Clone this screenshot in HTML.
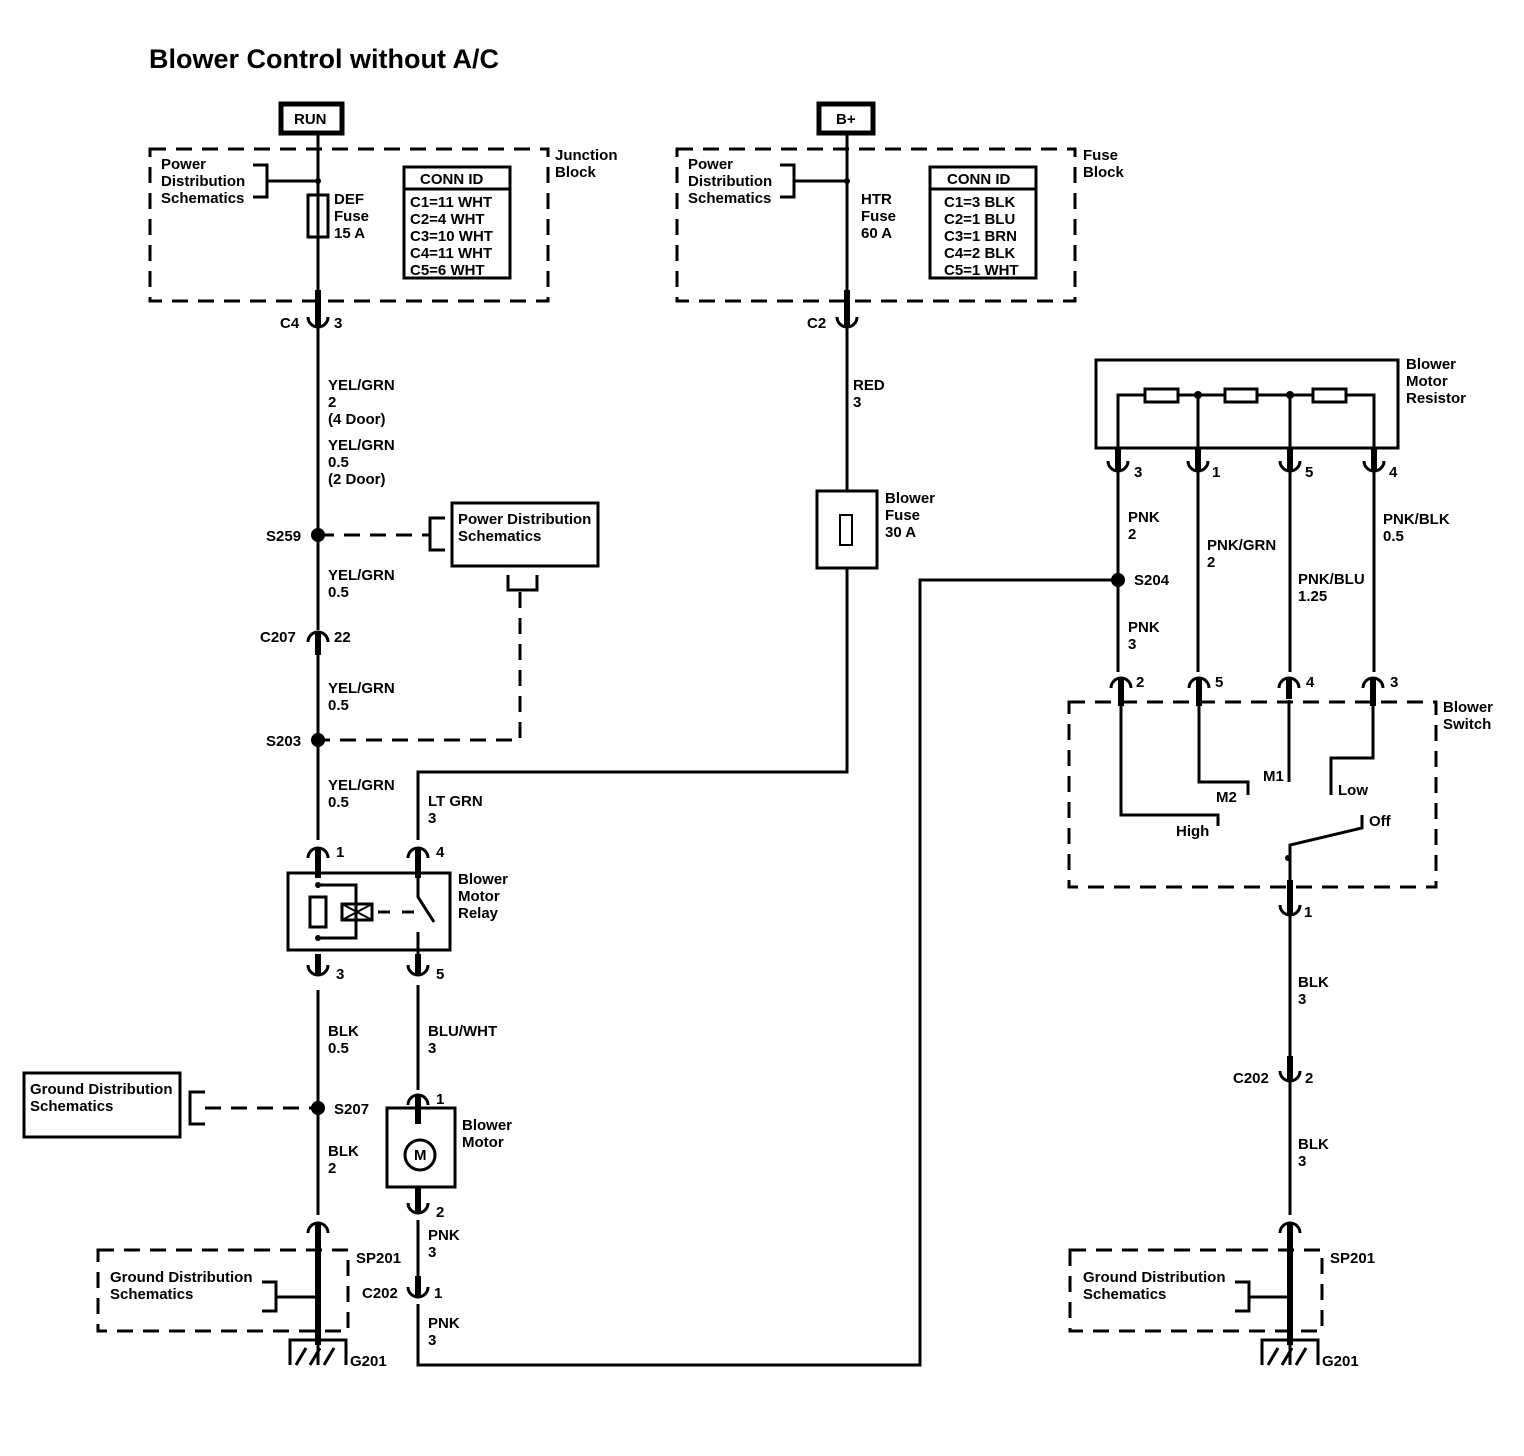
<!DOCTYPE html>
<html><head><style>
body{margin:0;background:#fff}
svg{display:block}
text{font-family:"Liberation Sans",sans-serif;font-size:15px;fill:#000;font-weight:bold}
.t{font-weight:bold;font-size:27px}
</style></head><body>
<svg width="1524" height="1456" viewBox="0 0 1524 1456" xmlns="http://www.w3.org/2000/svg">
<defs>
<g id="cup"><path d="M-10,-5 A10,10 0 0 0 10,-5" fill="none" stroke="#000" stroke-width="3"/><line x1="0" y1="-16" x2="0" y2="4" stroke="#000" stroke-width="6"/></g>
<g id="cap"><path d="M-10,5 A10,10 0 0 1 10,5" fill="none" stroke="#000" stroke-width="3"/><line x1="0" y1="-4" x2="0" y2="16" stroke="#000" stroke-width="6"/></g>
</defs>
<text x="149" y="68" class="t">Blower Control without A/C</text>
<g fill="none" stroke="#000" stroke-width="3">
<rect x="281" y="104" width="61" height="29" stroke-width="5"/>
<rect x="819" y="104" width="54" height="29" stroke-width="5"/>
<g stroke-dasharray="16,10">
<rect x="150" y="149" width="398" height="152"/>
<rect x="677" y="149" width="398" height="152"/>
<rect x="1069" y="702" width="367" height="185"/>
<rect x="98" y="1250" width="250" height="81"/>
<rect x="1070" y="1250" width="252" height="81"/>
<path d="M318,535 H430 M205,1108 H318 M520,592 V740 H318"/>
</g>
<path d="M318,134 V310 M318,322 V630 M318,655 V840 M318,990 V1215 M318,1240 V1365"/>
<path d="M253,165 H267 V197 H253 M267,181 H318"/>
<rect x="308" y="195" width="20" height="42"/>
<rect x="404" y="167" width="106" height="111"/><path d="M404,189 H510"/>
<path d="M445,518 H430 V550 H445"/>
<rect x="452" y="503" width="146" height="63"/>
<path d="M508,575 V590 H537 V575"/>
<rect x="288" y="873" width="162" height="77"/>
<path d="M318,885 H356 V938 H318"/>
<rect x="310" y="897" width="16" height="30"/>
<rect x="342" y="904" width="30" height="16"/><path d="M342,904 L372,920 M342,920 L372,904" stroke-width="2"/>
<path d="M378,912 H390 M402,912 H414" />
<path d="M418,870 V897 L434,922 M418,932 V960"/>
<path d="M418,840 V772 H847 V568 M847,491 V322 M847,134 V310"/>
<rect x="817" y="491" width="60" height="77"/>
<rect x="840" y="515" width="12" height="30" stroke-width="2"/>
<path d="M780,165 H794 V197 H780 M794,181 H847"/>
<rect x="930" y="167" width="106" height="111"/><path d="M930,189 H1036"/>
<path d="M418,985 V1090 M418,1115 V1124 M418,1186 V1197 M418,1220 V1280 M418,1304 V1365 H920 V580 H1118"/>
<rect x="387" y="1108" width="68" height="79"/>
<circle cx="420" cy="1155" r="15"/>
<path d="M205,1092 H190 V1124 H205"/>
<rect x="24" y="1073" width="156" height="64"/>
<path d="M262,1282 H276 V1311 H262 M276,1297 H318"/>
<path d="M290,1365 V1340 H346 V1365 M296,1365 L306,1348 M310,1365 L320,1348 M324,1365 L334,1348"/>
<rect x="1096" y="360" width="302" height="88"/>
<path d="M1118,448 V395 H1145 M1178,395 H1225 M1257,395 H1313 M1346,395 H1374 V448 M1198,395 V448 M1290,395 V448"/>
<rect x="1145" y="389" width="33" height="13"/><rect x="1225" y="389" width="32" height="13"/><rect x="1313" y="389" width="33" height="13"/>
<path d="M1118,468 V672 M1198,468 V672 M1290,468 V672 M1374,468 V672"/>
<path d="M1121,700 V815 H1218 V826 M1199,700 V782 H1248 V795 M1289,700 V782 M1373,700 V758 H1331 V795 M1362,815 V828 L1290,845 V880"/>
<path d="M1290,912 V1064 M1290,1078 V1215 M1290,1240 V1365"/>
<path d="M1235,1282 H1249 V1311 H1235 M1249,1297 H1290"/>
<path d="M1262,1365 V1340 H1318 V1365 M1268,1365 L1278,1348 M1282,1365 L1292,1348 M1296,1365 L1306,1348"/>
</g>
<g stroke="#000" stroke-width="6">
<path d="M318,290 V310 M847,290 V310 M318,645 V655 M318,958 V975 M418,958 V975 M318,862 V878 M418,862 V878 M418,1112 V1124 M418,1186 V1200 M418,1280 V1292 M318,1235 V1345 M1290,1235 V1345 M1290,880 V905 M1290,1056 V1076 M1118,448 V468 M1198,448 V468 M1290,448 V468 M1374,448 V468 M1121,690 V706 M1199,690 V706 M1373,690 V706"/>
</g>
<g fill="#000">
<circle cx="318" cy="181" r="3"/><circle cx="847" cy="181" r="3"/>
<circle cx="318" cy="535" r="7"/><circle cx="318" cy="740" r="7"/><circle cx="318" cy="1108" r="7"/><circle cx="1118" cy="580" r="7"/>
<circle cx="318" cy="885" r="3"/><circle cx="318" cy="938" r="3"/><circle cx="1198" cy="395" r="4"/><circle cx="1290" cy="395" r="4"/>
<circle cx="1288" cy="858" r="3"/><circle cx="318" cy="1297" r="3"/><circle cx="1290" cy="1297" r="3"/>
</g>
<g>
<use href="#cup" x="318" y="322"/><use href="#cup" x="847" y="322"/>
<use href="#cap" x="318" y="637"/>
<use href="#cap" x="318" y="853"/><use href="#cap" x="418" y="853"/>
<use href="#cup" x="318" y="970"/><use href="#cup" x="418" y="970"/>
<use href="#cap" x="418" y="1100"/><use href="#cup" x="418" y="1208"/><use href="#cup" x="418" y="1292"/>
<use href="#cap" x="318" y="1228"/><use href="#cap" x="1290" y="1228"/>
<use href="#cup" x="1118" y="466"/><use href="#cup" x="1198" y="466"/><use href="#cup" x="1290" y="466"/><use href="#cup" x="1374" y="466"/>
<use href="#cap" x="1121" y="683"/><use href="#cap" x="1199" y="683"/><use href="#cap" x="1289" y="683"/><use href="#cap" x="1373" y="683"/>
<use href="#cup" x="1290" y="910"/><use href="#cup" x="1290" y="1076"/>
</g>
<g>
<text x="294" y="124">RUN</text><text x="836" y="124">B+</text>
<text x="161" y="169">Power</text><text x="161" y="186">Distribution</text><text x="161" y="203">Schematics</text>
<text x="688" y="169">Power</text><text x="688" y="186">Distribution</text><text x="688" y="203">Schematics</text>
<text x="555" y="160">Junction</text><text x="555" y="177">Block</text>
<text x="1083" y="160">Fuse</text><text x="1083" y="177">Block</text>
<text x="334" y="204">DEF</text><text x="334" y="221">Fuse</text><text x="334" y="238">15 A</text>
<text x="861" y="204">HTR</text><text x="861" y="221">Fuse</text><text x="861" y="238">60 A</text>
<text x="420" y="184">CONN ID</text>
<text x="410" y="207">C1=11 WHT</text><text x="410" y="224">C2=4 WHT</text><text x="410" y="241">C3=10 WHT</text><text x="410" y="258">C4=11 WHT</text><text x="410" y="275">C5=6 WHT</text>
<text x="947" y="184">CONN ID</text>
<text x="944" y="207">C1=3 BLK</text><text x="944" y="224">C2=1 BLU</text><text x="944" y="241">C3=1 BRN</text><text x="944" y="258">C4=2 BLK</text><text x="944" y="275">C5=1 WHT</text>
<text x="280" y="328">C4</text><text x="334" y="328">3</text><text x="807" y="328">C2</text>
<text x="328" y="390">YEL/GRN</text><text x="328" y="407">2</text><text x="328" y="424">(4 Door)</text>
<text x="328" y="450">YEL/GRN</text><text x="328" y="467">0.5</text><text x="328" y="484">(2 Door)</text>
<text x="853" y="390">RED</text><text x="853" y="407">3</text>
<text x="266" y="541">S259</text>
<text x="458" y="524">Power Distribution</text><text x="458" y="541">Schematics</text>
<text x="328" y="580">YEL/GRN</text><text x="328" y="597">0.5</text>
<text x="260" y="642">C207</text><text x="334" y="642">22</text>
<text x="328" y="693">YEL/GRN</text><text x="328" y="710">0.5</text>
<text x="266" y="746">S203</text>
<text x="328" y="790">YEL/GRN</text><text x="328" y="807">0.5</text>
<text x="428" y="806">LT GRN</text><text x="428" y="823">3</text>
<text x="885" y="503">Blower</text><text x="885" y="520">Fuse</text><text x="885" y="537">30 A</text>
<text x="336" y="857">1</text><text x="436" y="857">4</text><text x="336" y="979">3</text><text x="436" y="979">5</text>
<text x="458" y="884">Blower</text><text x="458" y="901">Motor</text><text x="458" y="918">Relay</text>
<text x="328" y="1036">BLK</text><text x="328" y="1053">0.5</text>
<text x="428" y="1036">BLU/WHT</text><text x="428" y="1053">3</text>
<text x="436" y="1104">1</text>
<text x="462" y="1130">Blower</text><text x="462" y="1147">Motor</text>
<text x="414" y="1160" font-size="13">M</text>
<text x="30" y="1094">Ground Distribution</text><text x="30" y="1111">Schematics</text>
<text x="334" y="1114">S207</text>
<text x="328" y="1156">BLK</text><text x="328" y="1173">2</text>
<text x="436" y="1217">2</text>
<text x="428" y="1240">PNK</text><text x="428" y="1257">3</text>
<text x="356" y="1263">SP201</text>
<text x="110" y="1282">Ground Distribution</text><text x="110" y="1299">Schematics</text>
<text x="362" y="1298">C202</text><text x="434" y="1298">1</text>
<text x="428" y="1328">PNK</text><text x="428" y="1345">3</text>
<text x="350" y="1366">G201</text>
<text x="1406" y="369">Blower</text><text x="1406" y="386">Motor</text><text x="1406" y="403">Resistor</text>
<text x="1134" y="477">3</text><text x="1212" y="477">1</text><text x="1305" y="477">5</text><text x="1389" y="477">4</text>
<text x="1128" y="522">PNK</text><text x="1128" y="539">2</text>
<text x="1207" y="550">PNK/GRN</text><text x="1207" y="567">2</text>
<text x="1298" y="584">PNK/BLU</text><text x="1298" y="601">1.25</text>
<text x="1383" y="524">PNK/BLK</text><text x="1383" y="541">0.5</text>
<text x="1134" y="585">S204</text>
<text x="1128" y="632">PNK</text><text x="1128" y="649">3</text>
<text x="1136" y="687">2</text><text x="1215" y="687">5</text><text x="1306" y="687">4</text><text x="1390" y="687">3</text>
<text x="1443" y="712">Blower</text><text x="1443" y="729">Switch</text>
<text x="1263" y="781">M1</text><text x="1216" y="802">M2</text><text x="1338" y="795">Low</text>
<text x="1176" y="836">High</text><text x="1369" y="826">Off</text>
<text x="1304" y="917">1</text>
<text x="1298" y="987">BLK</text><text x="1298" y="1004">3</text>
<text x="1233" y="1083">C202</text><text x="1305" y="1083">2</text>
<text x="1298" y="1149">BLK</text><text x="1298" y="1166">3</text>
<text x="1330" y="1263">SP201</text>
<text x="1083" y="1282">Ground Distribution</text><text x="1083" y="1299">Schematics</text>
<text x="1322" y="1366">G201</text>
</g>
</svg>
</body></html>
